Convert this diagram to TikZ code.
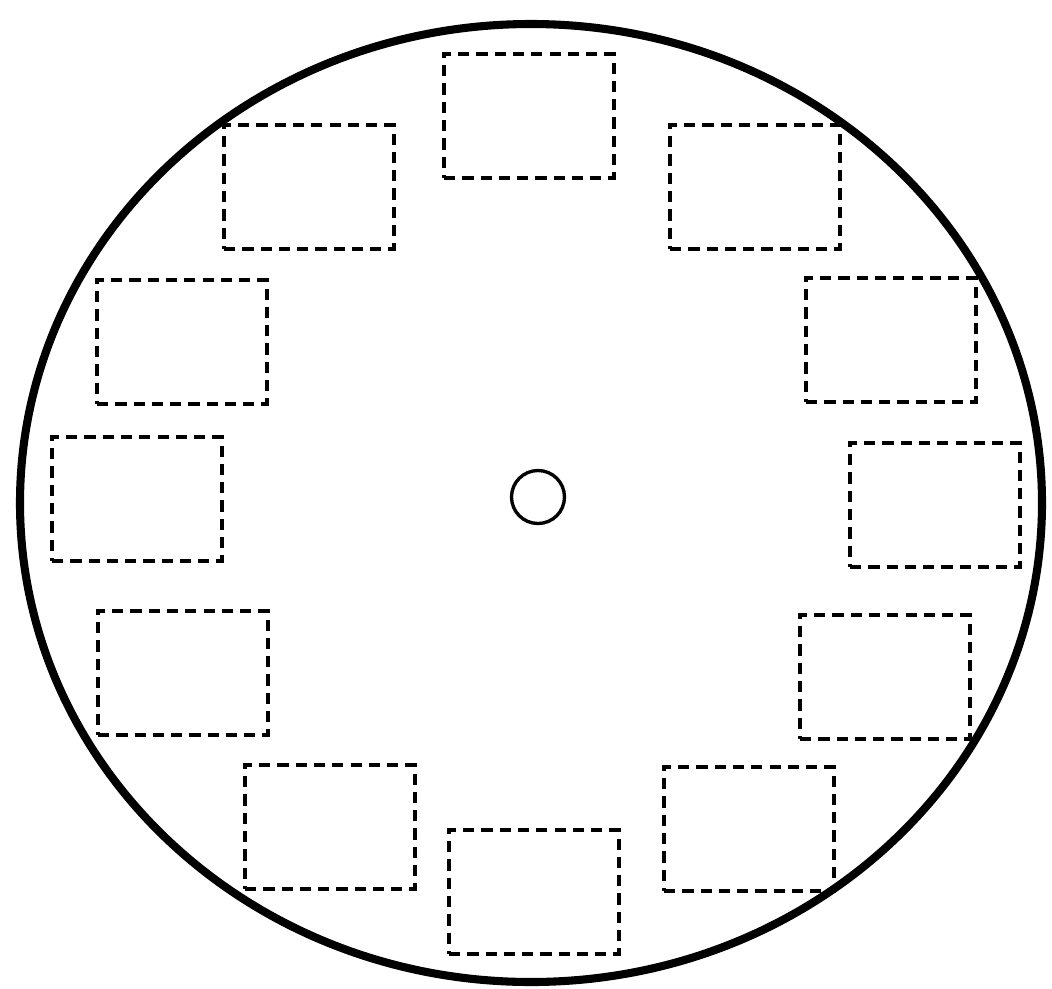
\documentclass[tikz,border=0pt]{standalone}
\usepackage{tikz}
\usetikzlibrary{positioning}

\begin{document}
\begin{tikzpicture}[
    x=0.02cm, y=-0.02cm, % one unit = one pixel of the reference
    rim/.style={line width=4.6pt}, % Style for the outer disc
    hub/.style={draw, circle, line width=1.9pt, minimum size=1.06cm, inner sep=0pt}, % Style for the centre hole
    slot/.style={draw, rectangle, line width=2.1pt, dash pattern=on 6.4pt off 4pt,
        minimum width=3.4cm, minimum height=2.48cm, inner sep=0pt} % Style for the dashed boxes
]
    \useasboundingbox (0,0) rectangle (1052,988);

    % Outer disc (slightly wider than tall, as in the picture)
    \coordinate (Center) at (531,503);
    \draw[rim] (Center) ellipse [x radius=511, y radius=479];

    % Centre hole
    \node[hub] (hole) at (538,497) {};

    % Dashed boxes round the rim, clockwise from the top
    \foreach \name/\x/\y in {top/529/116, topright/755/187, rightup/891/340,
        right/935/505, rightlow/885/677, lowright/749/829, bottom/534/892,
        lowleft/330/827, leftlow/183/673, left/137/499, leftup/182/342,
        topleft/309/187} {
        \node[slot] (\name) at (\x,\y) {};
    }

\end{tikzpicture}
\end{document}
